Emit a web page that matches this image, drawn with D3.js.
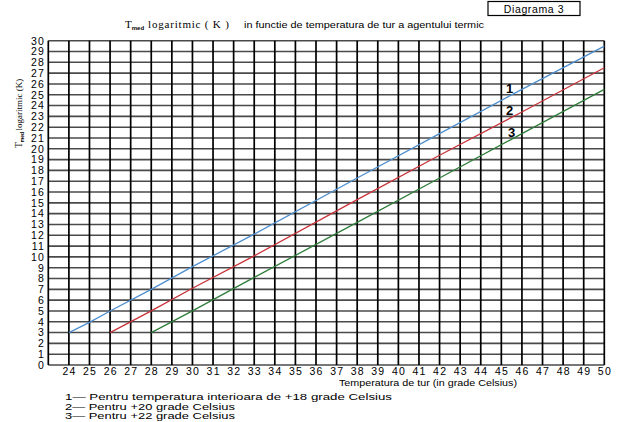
<!DOCTYPE html>
<html><head><meta charset="utf-8">
<script src="https://cdn.jsdelivr.net/npm/d3@7"></script>
<style>
html,body{margin:0;padding:0;background:#fff;}
svg{display:block;}
text{font-family:"Liberation Sans",Arial,sans-serif;fill:#000;}
</style></head>
<body>
<script>
// ---- data ----
const xTickLabels = d3.range(24, 51);          // 24..50
const yTickLabels = d3.range(0, 31);           // 0..30
const seriesNames = ["1", "2", "3"];
const legendLines = [
  "1\u2014 Pentru temperatura interioara de +18 grade Celsius",
  "2\u2014 Pentru +20 grade Celsius",
  "3\u2014 Pentru +22 grade Celsius"
];
const s1X = [24, 25, 26, 28, 30, 33, 38, 42, 46, 50];
const s1Y = [3, 3.95, 5.0, 7.0, 9.1, 12.1, 17.3, 21.4, 25.5, 29.5];
const s2X = [26, 28, 30, 33, 38, 42, 46, 50];
const s2Y = [3, 5.0, 7.1, 10.1, 15.3, 19.4, 23.4, 27.5];
const s3X = [28, 30, 33, 38, 42, 46, 50];
const s3Y = [3, 5.0, 8.1, 13.2, 17.3, 21.4, 25.5];
const seriesColors = ["#4f8fcf", "#c9333a", "#2f7d3a"];

// ---- chart ----
const W = 636, H = 422;
const svg = d3.select("body").append("svg").attr("width", W).attr("height", H);

const x = d3.scaleLinear().domain([23, 50]).range([48.3, 604.3]);
const y = d3.scaleLinear().domain([0, 30]).range([365, 40.7]);

// horizontal grid
svg.append("g").selectAll("line").data(yTickLabels).join("line")
  .attr("x1", x(23)).attr("x2", x(50))
  .attr("y1", d => y(d)).attr("y2", d => y(d))
  .attr("stroke", "#4a4a4a").attr("stroke-width", 1.6);

// vertical grid (left border at 23 + each tick)
svg.append("g").selectAll("line").data([23].concat(xTickLabels)).join("line")
  .attr("x1", d => x(d)).attr("x2", d => x(d))
  .attr("y1", y(30)).attr("y2", y(0))
  .attr("stroke", "#000").attr("stroke-width", 1.7);

// y tick labels
svg.append("g").selectAll("text").data(yTickLabels).join("text")
  .attr("x", 45).attr("y", d => y(d) + 3.8)
  .attr("text-anchor", "end")
  .style("font-size", "10.5px").style("letter-spacing", "1.2px")
  .text(d => d);

// x tick labels
svg.append("g").selectAll("text").data(xTickLabels).join("text")
  .attr("x", d => x(d) + 0.6).attr("y", 375)
  .attr("text-anchor", "middle")
  .style("font-size", "10.5px").style("letter-spacing", "1.2px")
  .text(d => d);

// series lines
const line = d3.line().x(d => x(d[0])).y(d => y(d[1]));
const allSeries = [d3.zip(s1X, s1Y), d3.zip(s2X, s2Y), d3.zip(s3X, s3Y)];
svg.append("g").selectAll("path").data(allSeries).join("path")
  .attr("d", line).attr("fill", "none")
  .attr("stroke", (d, i) => seriesColors[i]).attr("stroke-width", 1.3);

// series number labels
const labelPos = [[45.4, 25.6], [45.4, 23.6], [45.5, 21.6]];
svg.append("g").selectAll("text").data(seriesNames).join("text")
  .attr("x", (d, i) => x(labelPos[i][0])).attr("y", (d, i) => y(labelPos[i][1]) + 5)
  .attr("text-anchor", "middle")
  .style("font-size", "13px").style("font-weight", "bold")
  .text(d => d);

// title
const title = svg.append("text").attr("x", 125).attr("y", 28).style("font-size", "10px");
title.append("tspan").style("font-family", "'Liberation Serif',serif").style("font-size", "11px").text("T");
title.append("tspan").attr("dy", 2).style("font-size", "6px").style("font-weight", "bold").text("med");
title.append("tspan").attr("dy", -2).attr("dx", 4).style("font-family", "'Liberation Serif',serif")
  .style("font-size", "11px").style("letter-spacing", "0.8px").text("logaritmic ( K )");
svg.append("text").attr("x", 244).attr("y", 28)
  .attr("textLength", 240).attr("lengthAdjust", "spacingAndGlyphs")
  .style("font-size", "9.5px")
  .text("in  functie de temperatura de tur a agentului termic");

// Diagrama box
svg.append("rect").attr("x", 488).attr("y", 1.5).attr("width", 92).attr("height", 14)
  .attr("fill", "#fff").attr("stroke", "#000").attr("stroke-width", 1.2);
svg.append("text").attr("x", 534).attr("y", 12.5).attr("text-anchor", "middle")
  .style("font-size", "10.5px").style("letter-spacing", "0.6px").text("Diagrama  3");

// y-axis title (rotated)
const yt = svg.append("text").attr("transform", "translate(22,148) rotate(-90)")
  .style("font-size", "9.5px");
yt.append("tspan").style("font-family", "'Liberation Serif',serif").text("T");
yt.append("tspan").attr("dy", 2).style("font-size", "5px").style("font-weight", "bold").text("med");
yt.append("tspan").attr("dy", -2).attr("dx", 1.5).style("font-family", "'Liberation Serif',serif")
  .style("font-size", "9px").text("logaritmic (K)");

// x-axis title
svg.append("text").attr("x", 339).attr("y", 385.5)
  .attr("textLength", 178).attr("lengthAdjust", "spacingAndGlyphs")
  .style("font-size", "9.5px").text("Temperatura de tur (in grade Celsius)");

// legend
const legendWidths = [327, 170, 170];
svg.append("g").selectAll("text").data(legendLines).join("text")
  .attr("x", 65).attr("y", (d, i) => 400.3 + i * 9.4)
  .attr("textLength", (d, i) => legendWidths[i]).attr("lengthAdjust", "spacingAndGlyphs")
  .style("font-size", "8.6px")
  .text(d => d);
</script>
</body></html>
